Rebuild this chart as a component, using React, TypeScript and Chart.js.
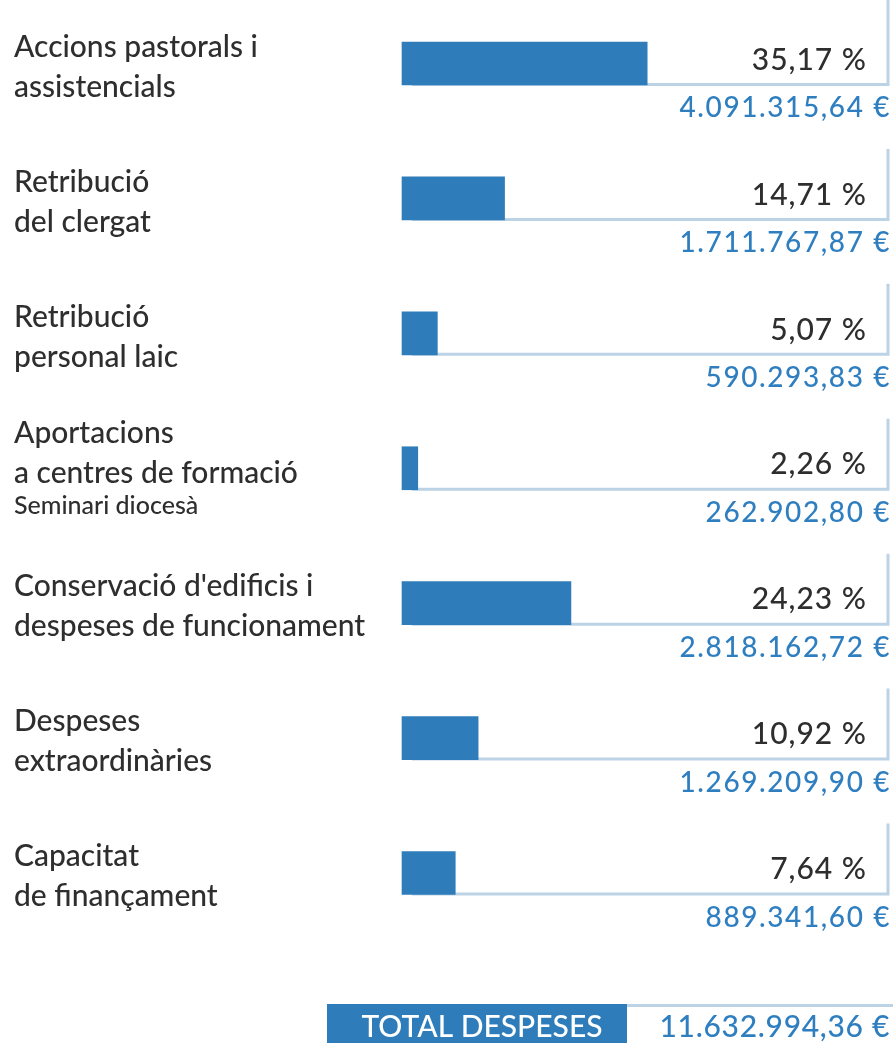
import React, { useEffect, useRef } from "react";
import { Chart, registerables } from "chart.js";

Chart.register(...registerables);

const categories: string[][] = [
  ["Accions pastorals i", "assistencials"],
  ["Retribució", "del clergat"],
  ["Retribució", "personal laic"],
  ["Aportacions", "a centres de formació"],
  ["Conservació d'edificis i", "despeses de funcionament"],
  ["Despeses", "extraordinàries"],
  ["Capacitat", "de finançament"],
];
const categoryNotes: string[] = ["", "", "", "Seminari diocesà", "", "", ""];
const percentages: number[] = [35.17, 14.71, 5.07, 2.26, 24.23, 10.92, 7.64];
const amounts: number[] = [
  4091315.64, 1711767.87, 590293.83, 262902.8, 2818162.72, 1269209.9, 889341.6,
];
const totalLabel = "TOTAL DESPESES";
const totalAmount = 11632994.36;

const BAR = "#2f7cba";
const LINE = "#bcd2e5";
const BLUE = "#2f7fc0";
const DARK = "#2e2e2e";
const FONT = "Lato, 'Noto Sans', sans-serif";

function fmtAmount(v: number): string {
  const [i, d] = v.toFixed(2).split(".");
  const withDots = i.replace(/\B(?=(\d{3})+(?!\d))/g, ".");
  return `${withDots},${d} €`;
}
function fmtPct(v: number): string {
  return `${v.toFixed(2).replace(".", ",")} %`;
}

const decorPlugin = {
  id: "decor",
  beforeDatasetsDraw(chart: any) {
    const ctx = chart.ctx;
    const meta = chart.getDatasetMeta(0);
    const rightX = 888;
    ctx.save();
    ctx.strokeStyle = LINE;
    ctx.lineWidth = 3;
    meta.data.forEach((bar: any, i: number) => {
      const top = bar.y - bar.height / 2;
      const bottom = bar.y + bar.height / 2;
      const startY = i === 0 ? 0 : top - 28;
      ctx.beginPath();
      ctx.moveTo(bar.base + 10, bottom - 0.5);
      ctx.lineTo(rightX, bottom - 0.5);
      ctx.lineTo(rightX, startY);
      ctx.stroke();
    });
    ctx.restore();
  },
  afterDatasetsDraw(chart: any) {
    const ctx = chart.ctx;
    const meta = chart.getDatasetMeta(0);
    ctx.save();
    meta.data.forEach((bar: any, i: number) => {
      const top = bar.y - bar.height / 2;
      const bottom = bar.y + bar.height / 2;
      // left labels
      const lines = categories[i];
      const note = categoryNotes[i];
      const firstY = note ? top - 13 : top + 5;
      ctx.fillStyle = DARK;
      ctx.textAlign = "left";
      ctx.textBaseline = "middle";
      ctx.letterSpacing = "0px";
      ctx.font = `500 30px ${FONT}`;
      lines.forEach((ln, k) => ctx.fillText(ln, 14, firstY + k * 40));
      if (note) {
        ctx.font = `500 25px ${FONT}`;
        ctx.fillText(note, 14, firstY + lines.length * 40 - 8);
      }
      // percentage
      ctx.textAlign = "right";
      ctx.font = `500 30px ${FONT}`;
      ctx.letterSpacing = "1px";
      ctx.fillStyle = DARK;
      ctx.fillText(fmtPct(percentages[i]), 867, bottom - 25);
      // amount
      ctx.font = `500 28px ${FONT}`;
      ctx.letterSpacing = "1.6px";
      ctx.fillStyle = BLUE;
      ctx.fillText(fmtAmount(amounts[i]), 891, bottom + 23);
    });
    // total
    const boxTop = 1004;
    ctx.letterSpacing = "0px";
    ctx.fillStyle = BAR;
    ctx.fillRect(327, boxTop, 300, 1043 - boxTop);
    ctx.strokeStyle = LINE;
    ctx.lineWidth = 3;
    ctx.beginPath();
    ctx.moveTo(627, boxTop + 1.5);
    ctx.lineTo(893, boxTop + 1.5);
    ctx.stroke();
    ctx.fillStyle = "#ffffff";
    ctx.textAlign = "center";
    ctx.textBaseline = "middle";
    ctx.font = `500 30px ${FONT}`;
    ctx.fillText(totalLabel, 482, 1027);
    ctx.fillStyle = BLUE;
    ctx.textAlign = "right";
    ctx.font = `500 30px ${FONT}`;
    ctx.letterSpacing = "0.7px";
    ctx.fillText(fmtAmount(totalAmount), 890, 1027);
    ctx.restore();
  },
};

export default function App() {
  const ref = useRef<HTMLCanvasElement | null>(null);
  useEffect(() => {
    if (!ref.current) return;
    const chart = new Chart(ref.current, {
      type: "bar",
      data: {
        labels: categories.map((c) => c.join(" ")),
        datasets: [
          {
            data: percentages,
            backgroundColor: BAR,
            borderWidth: 0,
            barThickness: 43,
            clip: false as any,
          },
        ],
      },
      options: {
        indexAxis: "y",
        responsive: false,
        animation: false,
        devicePixelRatio: 1,
        layout: { padding: { left: 402, right: 3, top: 63.5, bottom: 170 } },
        plugins: { legend: { display: false }, tooltip: { enabled: false } },
        scales: {
          x: { display: false, min: 0, max: 70 },
          y: { display: false, offset: false },
        },
      },
      plugins: [decorPlugin],
    });
    return () => chart.destroy();
  }, []);
  return (
    <div style={{ position: "absolute", left: 0, top: 0, width: 893, height: 1043, background: "#fff" }}>
      <canvas ref={ref} width={893} height={1043} style={{ display: "block" }} />
    </div>
  );
}
